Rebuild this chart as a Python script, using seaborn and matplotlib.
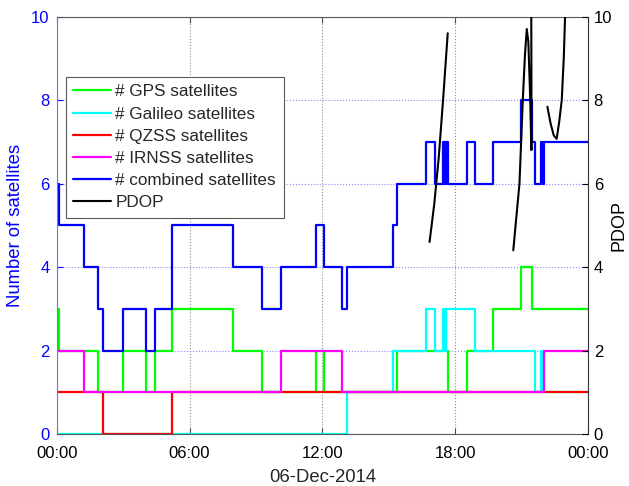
import matplotlib
matplotlib.use("Agg")
import matplotlib.pyplot as plt
import pandas as pd
import seaborn as sns

# ---- satellite counts (step changes, hours since 00:00 on 06-Dec-2014) ----
gps_t = [0, 0.12, 1.85, 3.01, 4.02, 4.46, 5.21, 7.95, 9.26, 11.72, 12.07,
         15.39, 17.65, 18.55, 19.70, 20.96, 21.47, 24]
gps_n = [3, 2, 1, 2, 1, 2, 3, 2, 1, 2, 1, 2, 1, 2, 3, 4, 3, 3]

galileo_t = [0, 13.10, 15.17, 16.68, 17.10, 17.44, 17.49, 17.52, 17.56, 17.58,
             18.90, 21.62, 21.85, 21.95, 24]
galileo_n = [0, 1, 2, 3, 2, 3, 2, 3, 2, 3, 2, 1, 2, 1, 1]

qzss_t = [0, 2.08, 5.22, 24]
qzss_n = [1, 0, 1, 1]

irnss_t = [0, 1.25, 10.13, 12.87, 21.99, 24]
irnss_n = [2, 1, 2, 1, 2, 2]

combined_t = [0, 0.12, 1.25, 1.85, 2.08, 3.01, 4.02, 4.46, 5.21, 7.95, 9.26,
              10.13, 11.72, 12.07, 12.87, 13.10, 15.17, 15.39, 16.68, 17.10,
              17.44, 17.49, 17.52, 17.56, 17.58, 17.65, 18.55, 18.90, 19.70,
              20.96, 21.47, 21.62, 21.85, 21.95, 21.99, 24]
combined_n = [6, 5, 4, 3, 2, 3, 2, 3, 5, 4, 3, 4, 5, 4, 3, 4, 5, 6, 7, 6,
              7, 6, 7, 6, 7, 6, 7, 6, 7, 8, 7, 6, 7, 6, 7, 7]

# ---- PDOP arcs ----
pdop1_t = [16.84, 17.05, 17.25, 17.45, 17.66]
pdop1_v = [4.6, 5.5, 6.6, 8.0, 9.6]
pdop2_t = [20.62, 20.76, 20.90, 21.05, 21.15, 21.23, 21.30, 21.37, 21.44, 21.44, 21.43]
pdop2_v = [4.4, 5.2, 6.0, 8.0, 9.1, 9.7, 9.4, 8.3, 6.8, 8.5, 10.6]
pdop3_t = [22.16, 22.30, 22.45, 22.58, 22.70, 22.81, 22.90, 22.96, 23.00]
pdop3_v = [7.84, 7.45, 7.15, 7.07, 7.5, 8.0, 9.0, 10.0, 10.6]

tick_hours = [0, 6, 12, 18, 24]
tick_labels = ["00:00", "06:00", "12:00", "18:00", "00:00"]
date_label = "06-Dec-2014"

sns.set_style("ticks")
plt.rcParams["font.family"] = ["Liberation Sans", "DejaVu Sans"]

fig, ax = plt.subplots(figsize=(6.29, 4.86), dpi=100)
fig.subplots_adjust(left=0.0901, right=0.935, bottom=0.107, top=0.966)

series = [
    (gps_t, gps_n, (0, 1, 0), "# GPS satellites"),
    (galileo_t, galileo_n, (0, 1, 1), "# Galileo satellites"),
    (qzss_t, qzss_n, (1, 0, 0), "# QZSS satellites"),
    (irnss_t, irnss_n, (1, 0, 1), "# IRNSS satellites"),
    (combined_t, combined_n, (0, 0, 1), "# combined satellites"),
]
for t, n, col, lab in series:
    sns.lineplot(x=t, y=n, drawstyle="steps-post", color=col, linewidth=1.6,
                 estimator=None, sort=False, ax=ax, label=lab)
if ax.get_legend() is not None:
    ax.get_legend().remove()

ax.set_xlim(0, 24)
ax.set_ylim(0, 10)
ax.set_xticks(tick_hours)
ax.set_xticklabels(tick_labels)
ax.set_yticks(range(0, 11, 2))
ax.set_xlabel(date_label, fontsize=13.3, labelpad=6)
ax.set_ylabel("Number of satellites", fontsize=13.3, color="blue", labelpad=5)
ax.set_axisbelow(True)
ax.xaxis.grid(True, linestyle=":", color="0.55", linewidth=0.8)
ax.yaxis.grid(True, linestyle=":", color="#8a8aff", linewidth=0.8)
ax.tick_params(axis="x", direction="in", top=True, length=4, labelsize=12,
               color="0.3", labelcolor="black", pad=8.5)
ax.tick_params(axis="y", direction="in", left=True, right=False, length=4,
               labelsize=12, colors="blue", pad=5)
ax.spines["left"].set_color("#7070ff")
ax.spines["right"].set_visible(False)
for s in ("top", "bottom"):
    ax.spines[s].set_color("0.35")
    ax.spines[s].set_linewidth(0.8)

ax2 = ax.twinx()
pdop = pd.concat([
    pd.DataFrame({"hour": pdop1_t, "pdop": pdop1_v, "arc": 1}),
    pd.DataFrame({"hour": pdop2_t, "pdop": pdop2_v, "arc": 2}),
    pd.DataFrame({"hour": pdop3_t, "pdop": pdop3_v, "arc": 3}),
])
for arc, grp in pdop.groupby("arc"):
    sns.lineplot(data=grp, x="hour", y="pdop", color="black", linewidth=1.5,
                 estimator=None, sort=False, ax=ax2,
                 label="PDOP" if arc == 1 else None)
if ax2.get_legend() is not None:
    ax2.get_legend().remove()
ax2.set_ylim(0, 10)
ax2.set_xlim(0, 24)
ax2.set_yticks(range(0, 11, 2))
ax2.set_ylabel("PDOP", fontsize=13, color="black", labelpad=-1.5)
ax2.tick_params(axis="y", direction="in", length=4, labelsize=12, colors="black",
                pad=4)
ax2.spines["left"].set_visible(False)
ax2.spines["top"].set_visible(False)
ax2.spines["bottom"].set_visible(False)
ax2.spines["right"].set_color("0.2")
ax2.spines["right"].set_linewidth(0.8)

handles = list(ax.get_lines()[:5]) + [ax2.get_lines()[0]]
labels = [s[3] for s in series] + ["PDOP"]
leg = ax2.legend(handles, labels, loc="upper left", bbox_to_anchor=(0.017, 0.856),
                 borderaxespad=0, frameon=True, fancybox=False, edgecolor="0.35",
                 framealpha=1, fontsize=12.3, handlelength=2.2, handletextpad=0.25,
                 labelspacing=0.42, borderpad=0.45)
leg.get_frame().set_linewidth(0.8)

fig.savefig("out.png", dpi=100)
